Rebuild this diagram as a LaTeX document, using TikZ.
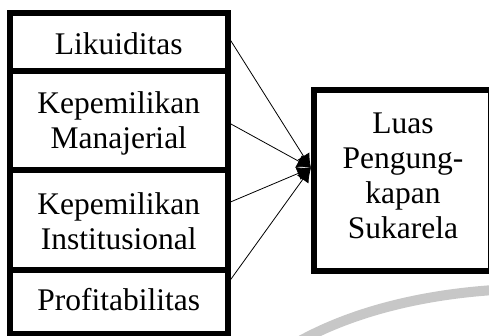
\documentclass[tikz,border=0pt]{standalone}
\usepackage{fontspec}
\setmainfont{Liberation Serif}
\usetikzlibrary{arrows.meta}

% fixed line pitch: every line carries a 35pt tall strut (26pt up, 9pt down)
\newcommand{\linestrut}{\rule[-9pt]{0pt}{35pt}}

\tikzset{
  varbox/.style={draw=black, line width=6pt, rectangle, inner sep=0pt},
  boxtext/.style={inner sep=0pt, align=center,
    font=\fontsize{31.5}{35}\selectfont},
  link/.style={draw=black, line width=0.8pt,
    -{Latex[length=14pt,width=14pt]}}
}

\begin{document}
\begin{tikzpicture}[x=1pt, y=-1pt]
  \useasboundingbox (0,0) rectangle (489,336);

  % faint grey arc in the lower right corner
  \draw[line width=10pt, color=black!22]
    (298,342) .. controls (352,312) and (420,295) .. (494,290);

  % independent variables, stacked frames
  \node[varbox, minimum width=217.5pt, minimum height=58.5pt]
    (liq) at (118.75,42.25) {};
  \node[varbox, minimum width=217.5pt, minimum height=98.5pt]
    (man) at (118.75,120.75) {};
  \node[varbox, minimum width=217.5pt, minimum height=100pt]
    (ins) at (118.75,220) {};
  \node[varbox, minimum width=217.5pt, minimum height=63.5pt]
    (pro) at (118.75,301.75) {};

  % dependent variable frame
  \node[varbox, minimum width=177pt, minimum height=180pt]
    (dep) at (402.5,180.5) {};

  % labels
  \node[boxtext] (liqlabel) at (118.75,46.5) {\linestrut Likuiditas};
  \node[boxtext] (manlabel) at (118.75,122.3)
    {\linestrut Kepemilikan\\\linestrut Manajerial};
  \node[boxtext] (inslabel) at (118.75,224)
    {\linestrut Kepemilikan\\\linestrut Institusional};
  \node[boxtext] (prolabel) at (118.75,302) {\linestrut Profitabilitas};
  \node[boxtext] (deplabel) at (403,177.2)
    {\linestrut Luas\\\linestrut Pengung-\\\linestrut kapan\\\linestrut Sukarela};

  \coordinate (hit) at ([yshift=12.5pt]dep.west);

  \draw[link] ([yshift=2pt]liq.east) -- (hit);
  \draw[link] ([yshift=-3pt]man.east) -- (hit);
  \draw[link] ([yshift=18pt]ins.east) -- (hit);
  \draw[link] ([yshift=22pt]pro.east) -- (hit);
\end{tikzpicture}
\end{document}
